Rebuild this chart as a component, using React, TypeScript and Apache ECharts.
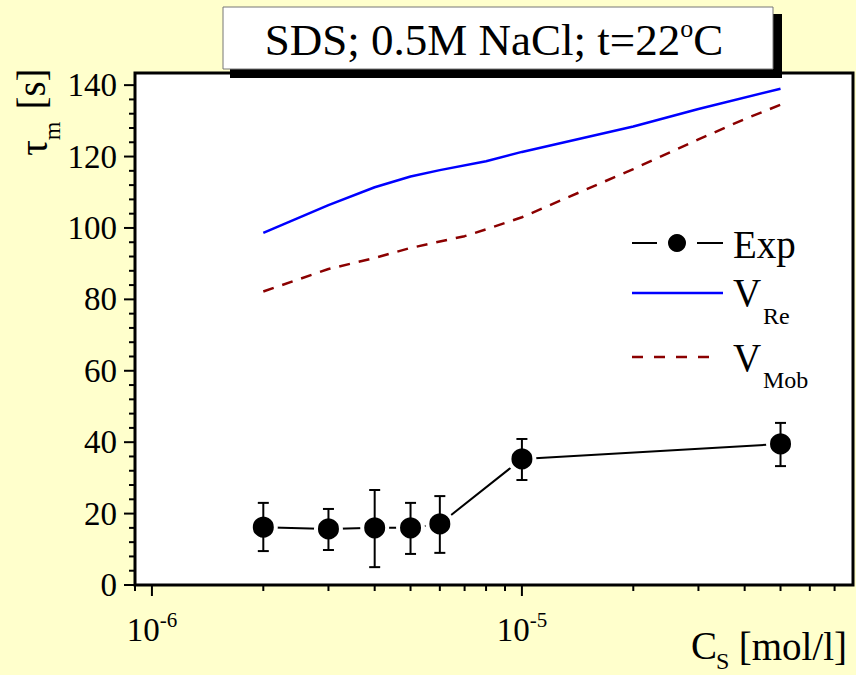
import React, { useEffect, useRef } from 'react';
import * as echarts from 'echarts';

const FONT = "'Liberation Serif', 'Times New Roman', Times, serif";

// Experimental data: C_S [mol/l] vs tau_m [s] with error bars
const expX = [2e-6, 3e-6, 4e-6, 5e-6, 6e-6, 1e-5, 5e-5];
const expY = [16.2, 15.7, 16.0, 16.0, 17.1, 35.3, 39.5];
const expLow = [9.5, 9.8, 5.0, 8.7, 9.0, 29.4, 33.3];
const expHigh = [23.0, 21.3, 26.6, 23.0, 24.9, 40.9, 45.4];

// V_Re theory curve
const reX = [2e-6, 3e-6, 4e-6, 5e-6, 6e-6, 8e-6, 1e-5, 2e-5, 3e-5, 5e-5];
const reY = [98.6, 106.4, 111.4, 114.4, 116.2, 118.7, 121.3, 128.4, 133.3, 139.0];

// V_Mob theory curve
const mobX = [2e-6, 3e-6, 4e-6, 5e-6, 6e-6, 7e-6, 8e-6, 1e-5, 2e-5, 3e-5, 4e-5, 5e-5];
const mobY = [82.2, 88.5, 91.6, 94.4, 96.2, 97.7, 99.6, 103.0, 116.5, 124.8, 130.5, 134.5];

// Axis ticks
const xMajorTicks = [1e-6, 1e-5];
const xMinorTicks = [2e-6, 3e-6, 4e-6, 5e-6, 6e-6, 7e-6, 8e-6, 9e-6, 2e-5, 3e-5, 4e-5, 5e-5, 6e-5, 7e-5];
const yMajorTicks = [0, 20, 40, 60, 80, 100, 120, 140];
const yMinorStep = 4;

const X_MIN = 9e-7;
const X_MAX = 7.85e-5;
const Y_MIN = 0;
const Y_MAX = 143.4;

export default function App() {
  const ref = useRef<HTMLDivElement>(null);

  useEffect(() => {
    document.body.style.margin = '0';
    if (!ref.current) return;
    const chart = echarts.init(ref.current, undefined, { renderer: 'svg' });

    const xTickData: number[][] = [
      ...xMajorTicks.map((v) => [v, Y_MIN, 11]),
      ...xMinorTicks.map((v) => [v, Y_MIN, 6]),
      [X_MIN, Y_MIN, 6],
    ];
    const yTickData: number[][] = [];
    yMajorTicks.forEach((v, i) => {
      yTickData.push([X_MIN, v, 11]);
      if (i < yMajorTicks.length - 1) {
        for (let m = v + yMinorStep; m < yMajorTicks[i + 1] - 1e-9; m += yMinorStep) {
          yTickData.push([X_MIN, m, 6]);
        }
      }
    });

    const txt = (text: string, x: number, y: number, size: number, align = 'left', extra: any = {}) => ({
      type: 'text',
      z: 100,
      x,
      y,
      ...extra,
      style: {
        text,
        fontSize: size,
        fontFamily: FONT,
        fill: '#000',
        align,
        verticalAlign: 'middle',
      },
    });

    const option: any = {
      animation: false,
      backgroundColor: '#FFFFCC',
      grid: {
        left: 135,
        right: 3,
        top: 73,
        bottom: 90,
        show: true,
        backgroundColor: '#FFFFFF',
        borderColor: '#000',
        borderWidth: 3,
      },
      xAxis: {
        type: 'log',
        logBase: 10,
        min: X_MIN,
        max: X_MAX,
        axisLine: { show: false },
        axisTick: { show: false },
        minorTick: { show: false },
        splitLine: { show: false },
        minorSplitLine: { show: false },
        axisLabel: {
          margin: 24,
          fontSize: 33,
          fontFamily: FONT,
          color: '#000',
          formatter: (v: number) => {
            const l = Math.log10(v);
            if (Math.abs(l - Math.round(l)) < 1e-6) return `10{sup|${Math.round(l)}}`;
            return '';
          },
          rich: {
            sup: { fontSize: 21, fontFamily: FONT, color: '#000', padding: [0, 0, 20, 0] },
          },
        },
      },
      yAxis: {
        type: 'value',
        min: Y_MIN,
        max: Y_MAX,
        interval: 20,
        axisLine: { show: false },
        axisTick: { show: false },
        splitLine: { show: false },
        axisLabel: {
          margin: 18,
          fontSize: 33,
          fontFamily: FONT,
          color: '#000',
          showMaxLabel: false,
          formatter: (v: number) => (Math.abs(v % 20) < 1e-9 ? String(v) : ''),
        },
      },
      series: [
        {
          type: 'custom',
          name: 'xticks',
          clip: false,
          silent: true,
          z: 5,
          data: xTickData,
          renderItem: (params: any, api: any) => {
            const p = api.coord([api.value(0), api.value(1)]);
            const len = api.value(2);
            return {
              type: 'line',
              shape: { x1: p[0], y1: p[1], x2: p[0], y2: p[1] + len },
              style: { stroke: '#000', lineWidth: 2 },
            };
          },
        },
        {
          type: 'custom',
          name: 'yticks',
          clip: false,
          silent: true,
          z: 5,
          data: yTickData,
          renderItem: (params: any, api: any) => {
            const p = api.coord([api.value(0), api.value(1)]);
            const len = api.value(2);
            return {
              type: 'line',
              shape: { x1: p[0] - len, y1: p[1], x2: p[0], y2: p[1] },
              style: { stroke: '#000', lineWidth: 2 },
            };
          },
        },
        {
          type: 'line',
          name: 'V_Re',
          data: reX.map((x, i) => [x, reY[i]]),
          symbol: 'none',
          lineStyle: { color: '#0000FF', width: 2.5 },
          z: 2,
        },
        {
          type: 'line',
          name: 'V_Mob',
          data: mobX.map((x, i) => [x, mobY[i]]),
          symbol: 'none',
          lineStyle: { color: '#8B0000', width: 2.5, type: [11, 9] },
          z: 2,
        },
        {
          type: 'line',
          name: 'Exp',
          data: expX.map((x, i) => [x, expY[i]]),
          symbol: 'circle',
          symbolSize: 25,
          itemStyle: { color: '#000', borderColor: '#FFFFFF', borderWidth: 4 },
          lineStyle: { color: '#000', width: 2 },
          z: 3,
        },
        {
          type: 'custom',
          name: 'errors',
          z: 4,
          data: expX.map((x, i) => [x, expLow[i], expHigh[i]]),
          encode: { x: 0, y: [1, 2] },
          renderItem: (params: any, api: any) => {
            const x = api.value(0);
            const lo = api.coord([x, api.value(1)]);
            const hi = api.coord([x, api.value(2)]);
            const w = 5.5;
            const st = { stroke: '#000', lineWidth: 2 };
            return {
              type: 'group',
              children: [
                { type: 'line', shape: { x1: lo[0], y1: lo[1], x2: hi[0], y2: hi[1] }, style: st },
                { type: 'line', shape: { x1: hi[0] - w, y1: hi[1], x2: hi[0] + w, y2: hi[1] }, style: st },
                { type: 'line', shape: { x1: lo[0] - w, y1: lo[1], x2: lo[0] + w, y2: lo[1] }, style: st },
              ],
            };
          },
        },
      ],
      graphic: [
        // title box
        { type: 'rect', z: 100, shape: { x: 230, y: 14, width: 552, height: 64 }, style: { fill: '#000' } },
        {
          type: 'rect',
          z: 101,
          shape: { x: 223, y: 7, width: 550, height: 62 },
          style: { fill: '#FFFFFF', stroke: '#777', lineWidth: 1 },
        },
        {
          type: 'text',
          z: 102,
          x: 494,
          y: 40,
          style: {
            text: '{a|SDS; 0.5M NaCl; t=22}{s|o}{a|C}',
            fontFamily: FONT,
            fill: '#000',
            align: 'center',
            verticalAlign: 'middle',
            rich: {
              a: { fontSize: 45, fontFamily: FONT, fill: '#000' },
              s: { fontSize: 26, fontFamily: FONT, fill: '#000', padding: [0, 0, 24, 0] },
            },
          },
        },
        // legend
        { type: 'line', z: 100, shape: { x1: 632, y1: 243, x2: 657, y2: 243 }, style: { stroke: '#000', lineWidth: 2 } },
        { type: 'line', z: 100, shape: { x1: 697, y1: 243, x2: 723, y2: 243 }, style: { stroke: '#000', lineWidth: 2 } },
        { type: 'circle', z: 100, shape: { cx: 677, cy: 243, r: 9 }, style: { fill: '#000' } },
        txt('Exp', 733, 244, 39),
        { type: 'line', z: 100, shape: { x1: 632, y1: 293, x2: 723, y2: 293 }, style: { stroke: '#0000FF', lineWidth: 2.5 } },
        txt('V', 733, 292, 39),
        txt('Re', 763, 316, 24),
        {
          type: 'line',
          z: 100,
          shape: { x1: 632, y1: 357, x2: 712, y2: 357 },
          style: { stroke: '#8B0000', lineWidth: 2.5, lineDash: [11, 11] },
        },
        txt('V', 733, 357, 39),
        txt('Mob', 763, 380, 24),
        // x axis title
        txt('C', 691, 645, 39),
        txt('S', 716, 661, 24),
        txt('[mol/l]', 847, 646, 39, 'right'),
        // y axis title (rotated)
        txt('τ', 33, 148, 39, 'center', { rotation: Math.PI / 2 }),
        txt('m', 52, 131, 24, 'center', { rotation: Math.PI / 2 }),
        txt('[s]', 31, 89, 39, 'center', { rotation: Math.PI / 2 }),
      ],
    };

    chart.setOption(option);
    return () => chart.dispose();
  }, []);

  return <div ref={ref} style={{ width: 856, height: 675 }} />;
}
